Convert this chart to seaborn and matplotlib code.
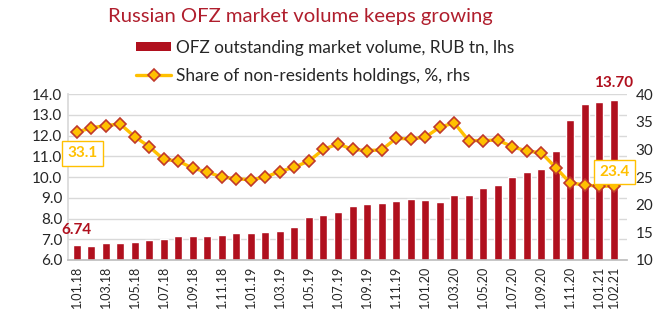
import numpy as np
import pandas as pd
import matplotlib
matplotlib.use("Agg")
import matplotlib.pyplot as plt
import seaborn as sns
from matplotlib.patches import Patch
from matplotlib.lines import Line2D

# Monthly observations, January 2018 - February 2021
dates = [
    "1.01.18", "1.02.18", "1.03.18", "1.04.18", "1.05.18", "1.06.18",
    "1.07.18", "1.08.18", "1.09.18", "1.10.18", "1.11.18", "1.12.18",
    "1.01.19", "1.02.19", "1.03.19", "1.04.19", "1.05.19", "1.06.19",
    "1.07.19", "1.08.19", "1.09.19", "1.10.19", "1.11.19", "1.12.19",
    "1.01.20", "1.02.20", "1.03.20", "1.04.20", "1.05.20", "1.06.20",
    "1.07.20", "1.08.20", "1.09.20", "1.10.20", "1.11.20", "1.12.20",
    "1.01.21", "1.02.21",
]

# OFZ outstanding market volume, RUB tn
volume = [
    6.74, 6.69, 6.81, 6.81, 6.87, 6.97, 7.03, 7.18, 7.18, 7.18, 7.22, 7.28,
    7.32, 7.37, 7.39, 7.60, 8.06, 8.18, 8.29, 8.60, 8.68, 8.76, 8.84, 8.92,
    8.89, 8.82, 9.12, 9.12, 9.46, 9.61, 10.01, 10.24, 10.41, 11.27, 12.75,
    13.54, 13.63, 13.70,
]

# Share of non-residents holdings, %
share = [
    33.1, 33.9, 34.3, 34.6, 32.3, 30.5, 28.2, 27.9, 26.6, 25.9, 25.0, 24.7,
    24.5, 25.0, 26.0, 26.8, 27.9, 30.0, 31.0, 30.0, 29.8, 29.9, 32.0, 31.9,
    32.2, 34.0, 34.8, 31.6, 31.6, 31.7, 30.5, 29.7, 29.4, 26.7, 23.9, 23.6,
    23.3, 23.4,
]

shown_ticks = [
    "1.01.18", "1.03.18", "1.05.18", "1.07.18", "1.09.18", "1.11.18",
    "1.01.19", "1.03.19", "1.05.19", "1.07.19", "1.09.19", "1.11.19",
    "1.01.20", "1.03.20", "1.05.20", "1.07.20", "1.09.20", "1.11.20",
    "1.01.21", "1.02.21",
]

title = "Russian OFZ market volume keeps growing"
bar_label = "OFZ outstanding market volume, RUB tn, lhs"
line_label = "Share of non-residents holdings, %, rhs"

BAR = "#B0101E"
GOLD = "#FFC000"
EDGE = "#C0392B"
TITLE_C = "#B01E2D"
TEXT_C = "#262626"
GRID_C = "#D9D9D9"

sns.set_theme(style="white")
plt.rcParams["font.family"] = ["Lato", "DejaVu Sans"]

df = pd.DataFrame({"date": dates, "volume": volume, "share": share})

fig = plt.figure(figsize=(6.72, 3.35), dpi=100)
ax = fig.add_axes([0.101, 0.224, 0.832, 0.495])

sns.barplot(data=df, x="date", y="volume", color=BAR, saturation=1,
            width=0.55, ax=ax, zorder=2)
ax.set_ylim(6, 14)
ax.set_yticks(np.arange(6, 14.01, 1.0))
ax.set_yticklabels([f"{v:.1f}" for v in np.arange(6, 14.01, 1.0)])
ax.yaxis.grid(True, color=GRID_C, lw=1.0, zorder=0)
ax.set_axisbelow(True)
ax.set_xlim(-0.6, len(dates) - 0.1)

pos = [dates.index(t) for t in shown_ticks]
ax.set_xticks(pos)
ax.set_xticklabels(shown_ticks, rotation=90, fontsize=9, color=TEXT_C)
ax.set_xlabel("")
ax.set_ylabel("")
ax.tick_params(axis="both", length=0, pad=4)
ax.tick_params(axis="y", labelsize=11, labelcolor=TEXT_C)
for s in ["top", "right"]:
    ax.spines[s].set_visible(False)
ax.spines["left"].set_color(GRID_C)
ax.spines["bottom"].set_color("#BFBFBF")

ax2 = ax.twinx()
sns.lineplot(x=np.arange(len(df)), y=df["share"], ax=ax2, color=GOLD, lw=2.4,
             marker="D", markersize=6, markerfacecolor=GOLD,
             markeredgecolor=EDGE, markeredgewidth=1.2, zorder=3)
ax2.set_ylim(10, 40)
ax2.set_yticks(np.arange(10, 41, 5))
ax2.set_ylabel("")
ax2.tick_params(axis="y", length=0, labelsize=11, labelcolor=TEXT_C, pad=6)
for s in ["top", "left", "bottom", "right"]:
    ax2.spines[s].set_visible(False)

# value callouts
ax.annotate(f"{volume[0]:.2f}", (0, volume[0]), xytext=(0, 8),
            textcoords="offset pixels", ha="center", va="bottom",
            fontsize=11, fontweight="bold", color=BAR)
ax.annotate(f"{volume[-1]:.2f}", (len(volume) - 1, volume[-1]), xytext=(0, 10),
            textcoords="offset pixels", ha="center", va="bottom",
            fontsize=11, fontweight="bold", color=BAR, annotation_clip=False)

box = dict(boxstyle="square,pad=0.35", fc="white", ec=GOLD, lw=1.0)
ax2.annotate(f"{share[0]:.1f}", (0, share[0]), xytext=(6, -21),
             textcoords="offset pixels", ha="center", va="center",
             fontsize=11, fontweight="bold", color=GOLD, bbox=box,
             annotation_clip=False, zorder=5)
ax2.annotate(f"{share[-1]:.1f}", (len(share) - 1, share[-1]), xytext=(1, 14),
             textcoords="offset pixels", ha="center", va="center",
             fontsize=11, fontweight="bold", color=GOLD, bbox=box,
             annotation_clip=False, zorder=5)

fig.text(0.447, 0.952, title, ha="center", va="center", fontsize=14.6,
         color=TITLE_C)

handles = [
    Patch(facecolor=BAR, edgecolor="none"),
    Line2D([], [], color=GOLD, lw=2.4, marker="D", markersize=6,
           markerfacecolor=GOLD, markeredgecolor=EDGE, markeredgewidth=1.2),
]
fig.legend(handles, [bar_label, line_label], loc="upper left",
           bbox_to_anchor=(0.203, 0.882), frameon=False, fontsize=12.4,
           handlelength=2.0, handleheight=0.5, handletextpad=0.3,
           labelspacing=0.72, borderpad=0, borderaxespad=0,
           labelcolor=TEXT_C)

fig.savefig("out.png", dpi=100)
